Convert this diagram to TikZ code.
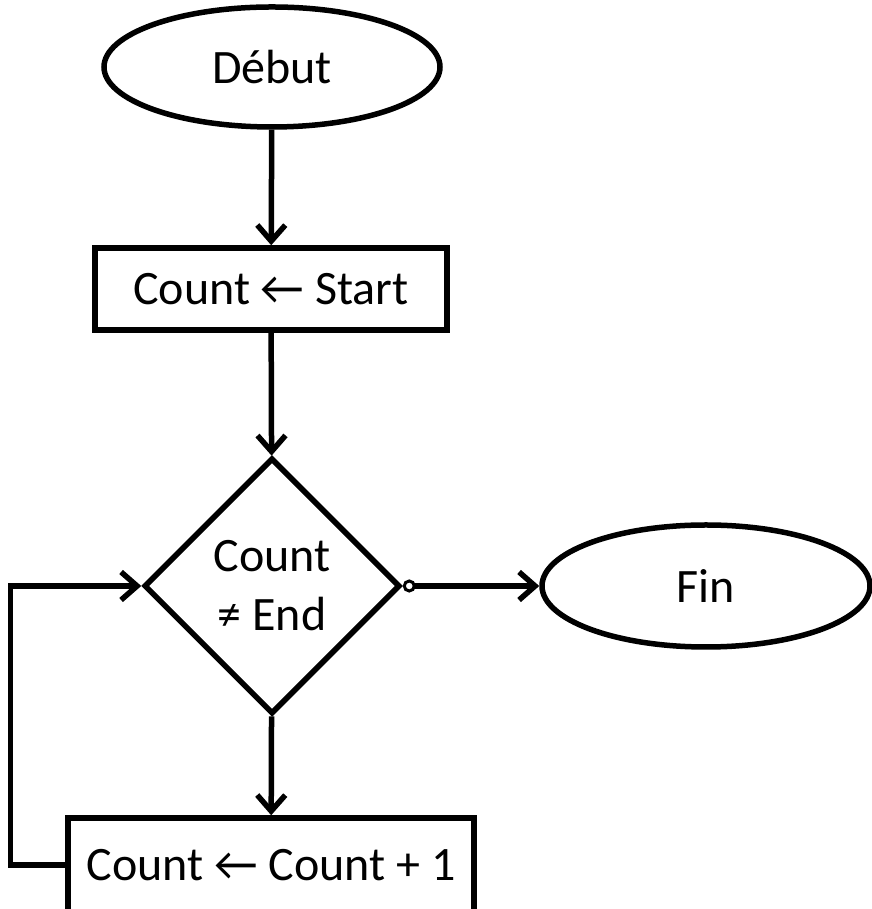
\documentclass[tikz,border=0pt]{standalone}
\usepackage{fontspec}
\setmainfont{Carlito}
\usetikzlibrary{shapes.geometric,arrows.meta}
\begin{document}
\begin{tikzpicture}[x=1pt,y=1pt,line width=5.5pt,
  every node/.style={font=\fontsize{48}{59}\selectfont},
  term/.style={draw,ellipse,inner sep=0pt},
  instr/.style={draw,rectangle,inner sep=0pt},
  test/.style={draw,diamond,aspect=1,inner sep=0pt,minimum size=256pt,align=center},
  arr/.style={-{Straight Barb[length=16pt,width=28pt]}}]
\useasboundingbox (0,0) rectangle (871,909);
\node[term,minimum width=336pt,minimum height=120pt] (debut) at (272,842) {Début};
\node[instr,minimum width=352pt,minimum height=82pt] (init) at (271,620) {Count ← Start};
\node[test] (cond) at (272,323) {Count\\≠ End};
\node[term,minimum width=328pt,minimum height=122pt] (fin) at (706,323) {Fin};
\node[instr,minimum width=406pt,minimum height=94pt] (incr) at (271,44) {Count ← Count + 1};
\draw[arr] (debut) -- (init);
\draw[arr] (init) -- (cond);
\draw[arr] (cond) -- (incr);
\draw[{Circle[open,length=13pt,line width=3pt]}-{Straight Barb[length=16pt,width=28pt]}] (cond.east) -- (fin.west);
% back to the test
\draw[arr] (incr.west) -- ++(-55,0) |- (cond.west);
\end{tikzpicture}
\end{document}
